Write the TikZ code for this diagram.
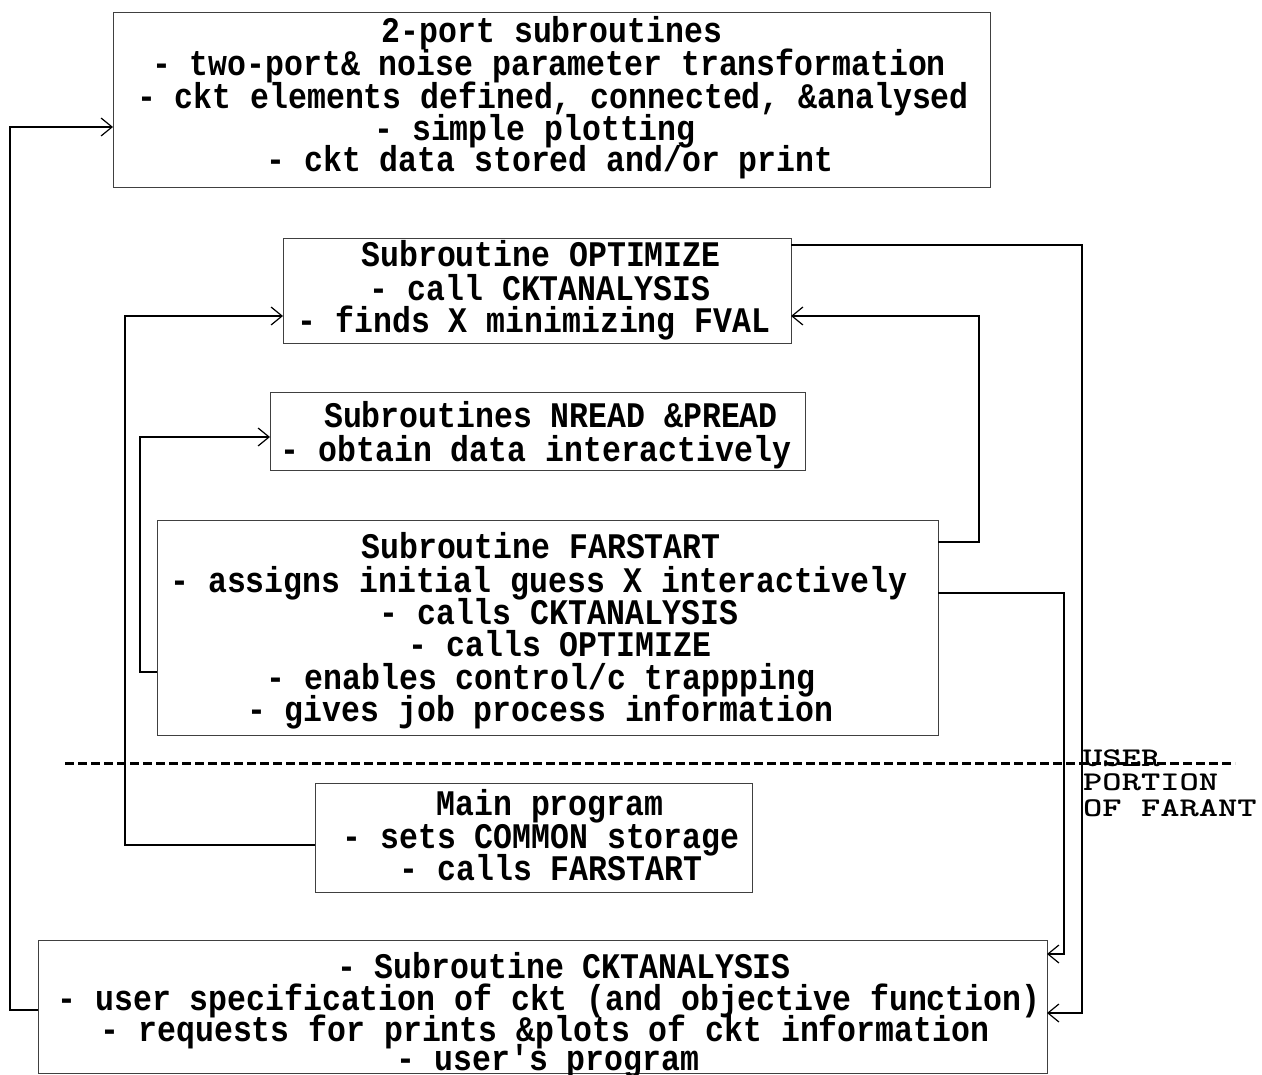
\documentclass[tikz,border=0pt]{standalone}
\usepackage{fontspec}
\newfontfamily\tw{Liberation Mono}[FakeStretch=0.875]
\usetikzlibrary{arrows.meta}
\newcommand{\wlbl}[1]{\scalebox{1.36}[1]{#1}}
\begin{document}
\begin{tikzpicture}[x=1pt,y=-1pt,
  blk/.style={draw=black!75, line width=0.9pt, inner sep=0pt, outer sep=0pt},
  txt/.style={font=\tw\bfseries\fontsize{36}{36}\selectfont, anchor=base, inner sep=0pt},
  lbl/.style={font=\ttfamily\bfseries\fontsize{27}{26}\selectfont, anchor=base west, inner sep=0pt},
  conn/.style={draw=black, line width=1.3pt},
  arr/.style={conn, -{Straight Barb[length=11pt,width=18pt,line width=1.2pt]}},
  sep/.style={draw=black, line width=3pt, dash pattern=on 9pt off 4pt}]
\useasboundingbox (0,0) rectangle (1262,1075);

% boxes
\node[blk, minimum width=877pt, minimum height=175pt] (b1) at (551.5,99.5) {};
\node[blk, minimum width=508pt, minimum height=105pt] (opt) at (537,290.5) {};
\node[blk, minimum width=535pt, minimum height=78pt] (nrd) at (537.5,431) {};
\node[blk, minimum width=781pt, minimum height=215pt] (far) at (547.5,627.5) {};
\node[blk, minimum width=437pt, minimum height=109pt] (mn) at (533.5,837.5) {};
\node[blk, minimum width=1009pt, minimum height=133pt] (ckt) at (542.5,1006.5) {};

% texts box 1
\node[txt] (t11) at (552,43) {2-port subroutines};
\node[txt] (t12) at (549,76) {- two-port\& noise parameter transformation};
\node[txt] (t13) at (553,109) {- ckt elements defined, connected, \&analysed};
\node[txt] (t14) at (535,141) {- simple plotting};
\node[txt] (t15) at (550,172) {- ckt data stored and/or print};
% optimize
\node[txt] (t21) at (541,267) {Subroutine OPTIMIZE};
\node[txt] (t22) at (540,301) {- call CKTANALYSIS};
\node[txt] (t23) at (534,333) {- finds X minimizing FVAL};
% nread
\node[txt] (t31) at (551,428) {Subroutines NREAD \&PREAD};
\node[txt] (t32) at (536,461) {- obtain data interactively};
% farstart
\node[txt] (t41) at (541,558) {Subroutine FARSTART};
\node[txt] (t42) at (539,592) {- assigns initial guess X interactively};
\node[txt] (t43) at (559,624) {- calls CKTANALYSIS};
\node[txt] (t44) at (560,656) {- calls OPTIMIZE};
\node[txt] (t45) at (541,689) {- enables control/c trappping};
\node[txt] (t46) at (540,721) {- gives job process information};
% main
\node[txt] (t51) at (550,815) {Main program};
\node[txt] (t52) at (541,848) {- sets COMMON storage};
\node[txt] (t53) at (551,880) {- calls FARSTART};
% ckt
\node[txt] (t61) at (564,978) {- Subroutine CKTANALYSIS};
\node[txt] (t62) at (549,1010) {- user specification of ckt (and objective function)};
\node[txt] (t63) at (545,1041) {- requests for prints \&plots of ckt information};
\node[txt] (t64) at (548,1070) {- user's program};

% separator and label
\coordinate (d1) at (65,763);
\coordinate (d2) at (1235,763);
\draw[sep] (d1) -- (d2);
\node[lbl] (u1) at (1083,766) {\wlbl{USER}};
\node[lbl] (u2) at (1083,790) {\wlbl{PORTION}};
\node[lbl] (u3) at (1083,816) {\wlbl{OF FARANT}};

% connectors
\coordinate (k1) at (10,1010);
\coordinate (k2) at (10,127);
\draw[arr] (ckt.west |- k1) -- (k1) -- (k2) -- (b1.west |- k2);

\coordinate (m1) at (125,845);
\coordinate (m2) at (125,316);
\draw[arr] (mn.west |- m1) -- (m1) -- (m2) -- (opt.west |- m2);

\coordinate (f1) at (140,672);
\coordinate (f2) at (140,437);
\draw[arr] (far.west |- f1) -- (f1) -- (f2) -- (nrd.west |- f2);

\coordinate (g1) at (979,542);
\coordinate (g2) at (979,316);
\draw[arr] (far.east |- g1) -- (g1) -- (g2) -- (opt.east |- g2);

\coordinate (h1) at (1064,593);
\coordinate (h2) at (1064,954);
\draw[arr] (far.east |- h1) -- (h1) -- (h2) -- (ckt.east |- h2);

\coordinate (o1) at (1082,245);
\coordinate (o2) at (1082,1013);
\draw[arr] (opt.east |- o1) -- (o1) -- (o2) -- (ckt.east |- o2);
\end{tikzpicture}
\end{document}
